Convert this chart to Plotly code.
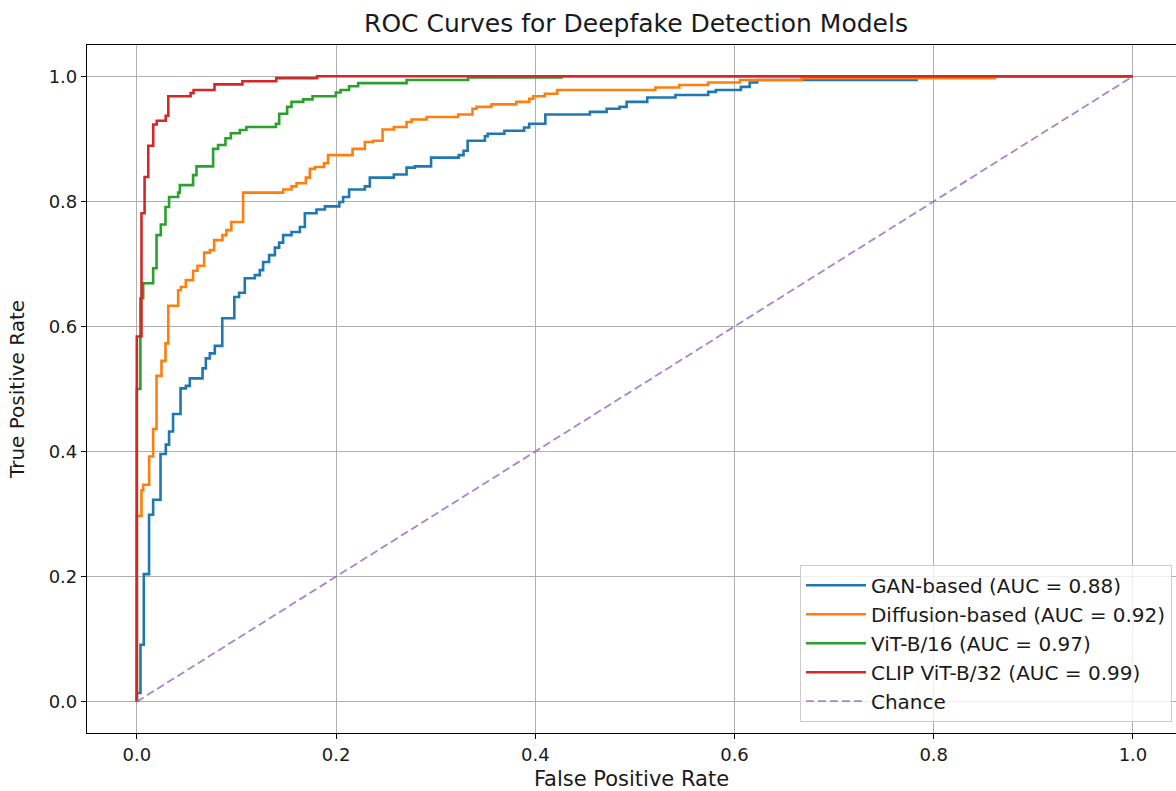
import plotly.graph_objects as go

# ---- Data (ROC corner points: fpr where each rise happens, tpr after the rise)
gan_fpr = [0, 0, 0.0037, 0.007, 0.0123, 0.0164, 0.0238, 0.0291, 0.0324, 0.0364, 0.0439, 0.0492, 0.0532,
           0.066, 0.0693, 0.0733, 0.0783, 0.0858, 0.0979, 0.1027, 0.1084, 0.1185, 0.1235, 0.1268, 0.1328,
           0.1386, 0.1429, 0.1469, 0.1553, 0.1637, 0.1687, 0.1804, 0.1888, 0.2033, 0.2071, 0.2131, 0.2289,
           0.2339, 0.258, 0.2708, 0.2791, 0.2954, 0.3231, 0.328, 0.3321, 0.3494, 0.3522, 0.369, 0.3888,
           0.3939, 0.4101, 0.4548, 0.4716, 0.4846, 0.4917, 0.5124, 0.5407, 0.5736, 0.5813, 0.6064, 0.6152,
           0.6228, 0.7828, 1.0]
gan_tpr = [0, 0.014, 0.091, 0.204, 0.299, 0.323, 0.396, 0.411, 0.432, 0.460, 0.501, 0.505, 0.517,
           0.533, 0.549, 0.557, 0.569, 0.613, 0.647, 0.654, 0.677, 0.682, 0.690, 0.703, 0.714,
           0.726, 0.734, 0.746, 0.751, 0.759, 0.781, 0.787, 0.792, 0.799, 0.807, 0.819, 0.824,
           0.838, 0.843, 0.854, 0.856, 0.870, 0.874, 0.881, 0.897, 0.904, 0.908, 0.913, 0.918,
           0.924, 0.939, 0.943, 0.948, 0.951, 0.959, 0.966, 0.970, 0.975, 0.978, 0.983, 0.990,
           0.994, 1.0, 1.0]

diff_fpr = [0, 0, 0.0047, 0.0064, 0.0124, 0.0164, 0.0198, 0.0248, 0.0288, 0.0316, 0.0415, 0.0442, 0.0492,
            0.0565, 0.0609, 0.0676, 0.0733, 0.0776, 0.086, 0.090, 0.0949, 0.1067, 0.1469, 0.1553, 0.1603,
            0.1697, 0.1737, 0.1787, 0.188, 0.192, 0.2166, 0.2289, 0.2372, 0.2467, 0.258, 0.2708, 0.2758,
            0.2909, 0.3226, 0.337, 0.341, 0.356, 0.381, 0.394, 0.398, 0.4096, 0.422, 0.5206, 0.5445,
            0.5736, 0.6054, 0.6674, 0.8614, 1.0]
diff_tpr = [0, 0.297, 0.338, 0.347, 0.392, 0.436, 0.521, 0.545, 0.573, 0.633, 0.658, 0.663, 0.674,
            0.689, 0.697, 0.718, 0.722, 0.738, 0.746, 0.754, 0.767, 0.814, 0.819, 0.824, 0.829,
            0.838, 0.852, 0.855, 0.861, 0.874, 0.884, 0.895, 0.897, 0.915, 0.919, 0.927, 0.931,
            0.935, 0.939, 0.948, 0.951, 0.955, 0.959, 0.964, 0.968, 0.972, 0.978, 0.982, 0.986,
            0.990, 0.994, 0.997, 1.0, 1.0]

vit_fpr = [0, 0, 0.0036, 0.0064, 0.0164, 0.0198, 0.0241, 0.0288, 0.0324, 0.0415, 0.0432, 0.0565, 0.0599,
           0.0766, 0.0816, 0.089, 0.0944, 0.1034, 0.110, 0.1396, 0.1429, 0.1509, 0.1553, 0.167, 0.1764,
           0.1998, 0.2045, 0.2131, 0.2222, 0.2708, 0.3326, 0.4264, 1.0]
vit_tpr = [0, 0.50, 0.645, 0.669, 0.693, 0.746, 0.763, 0.791, 0.807, 0.814, 0.826, 0.842, 0.856,
           0.884, 0.890, 0.901, 0.909, 0.914, 0.919, 0.924, 0.940, 0.951, 0.959, 0.963, 0.968,
           0.974, 0.978, 0.984, 0.989, 0.994, 0.998, 1.0, 1.0]

clip_fpr = [0, 0, 0.0047, 0.0078, 0.0115, 0.0165, 0.020, 0.029, 0.0316, 0.054, 0.057, 0.078, 0.106,
            0.140, 0.181, 1.0]
clip_tpr = [0, 0.584, 0.781, 0.839, 0.889, 0.923, 0.929, 0.937, 0.968, 0.973, 0.978, 0.987, 0.992,
            0.997, 1.0, 1.0]

chance = [0, 1]

models = [
    ("GAN-based (AUC = 0.88)", gan_fpr, gan_tpr, "#1f77b4"),
    ("Diffusion-based (AUC = 0.92)", diff_fpr, diff_tpr, "#ff7f0e"),
    ("ViT-B/16 (AUC = 0.97)", vit_fpr, vit_tpr, "#2ca02c"),
    ("CLIP ViT-B/32 (AUC = 0.99)", clip_fpr, clip_tpr, "#d62728"),
]

FONT = "DejaVu Sans"
TXT = "#1a1a1a"

fig = go.Figure()
for name, fx, ty, col in models:
    fig.add_trace(go.Scatter(x=fx, y=ty, mode="lines", name=name,
                             line=dict(color=col, width=2.6, shape="hv")))
fig.add_trace(go.Scatter(x=chance, y=chance, mode="lines", name="Chance", opacity=0.8,
                         line=dict(color="#9467bd", width=1.8, dash="8px,4px")))

fig.update_layout(
    width=1176, height=791,
    margin=dict(l=87, r=0, t=45, b=58),
    paper_bgcolor="white", plot_bgcolor="white",
    font=dict(family=FONT, color=TXT),
    title=dict(text="ROC Curves for Deepfake Detection Models", font=dict(family=FONT, size=25, color=TXT),
               x=636 / 1176, xanchor="center", xref="container", y=1 - 23 / 791, yanchor="middle", yref="container"),
    legend=dict(x=0.9963, y=0.0164, xanchor="right", yanchor="bottom", itemwidth=60,
                bgcolor="rgba(255,255,255,0.8)", bordercolor="#cccccc", borderwidth=1,
                font=dict(family=FONT, size=20, color=TXT)),
    showlegend=True,
)
fig.update_xaxes(range=[-0.05, 1.0432], tickvals=[0, 0.2, 0.4, 0.6, 0.8, 1.0], tickformat=".1f",
                 showgrid=True, gridcolor="#b0b0b0", gridwidth=1.2, zeroline=False,
                 showline=True, linecolor="black", linewidth=1.2, mirror=True,
                 ticks="outside", ticklen=5, tickcolor="black", tickfont=dict(family=FONT, size=18, color=TXT),
                 title=dict(text="False Positive Rate", font=dict(family=FONT, size=21, color=TXT), standoff=9))
fig.update_yaxes(range=[-0.05, 1.05], tickvals=[0, 0.2, 0.4, 0.6, 0.8, 1.0], tickformat=".1f",
                 showgrid=True, gridcolor="#b0b0b0", gridwidth=1.2, zeroline=False,
                 showline=True, linecolor="black", linewidth=1.2, mirror=False,
                 ticks="outside", ticklen=5, tickcolor="black", tickfont=dict(family=FONT, size=18, color=TXT),
                 title=dict(text="True Positive Rate", font=dict(family=FONT, size=20, color=TXT), standoff=18))

fig.write_html("out.html")
